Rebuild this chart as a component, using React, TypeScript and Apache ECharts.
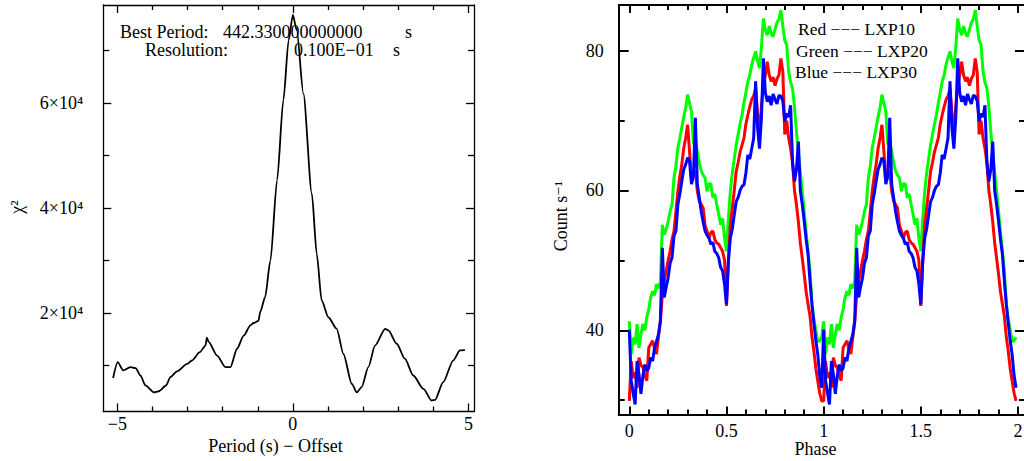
import React, { useEffect, useRef } from "react";
import * as echarts from "echarts";

// ---------- Left panel: chi-square periodogram ----------
const periodOffsets = [-5.12, -4.99, -4.83, -4.63, -4.48, -4.34, -4.2, -3.96, -3.82, -3.61, -3.49, -3.3, -3.01, -2.87, -2.65, -2.49, -2.45, -2.4, -2.16, -1.92, -1.78, -1.59, -1.4, -1.21, -1.12, -0.98, -0.93, -0.79, -0.64, -0.45, -0.27, -0.12, 0, 0.11, 0.3, 0.54, 0.68, 0.82, 1.01, 1.25, 1.44, 1.68, 1.82, 1.96, 2.15, 2.34, 2.63, 2.72, 2.96, 3.19, 3.43, 3.72, 3.95, 4.05, 4.28, 4.57, 4.76, 4.9];
const chiSquare = [7600, 10650, 9060, 9700, 9500, 8100, 6200, 4900, 5100, 6200, 7800, 8900, 10300, 11000, 12550, 13800, 15300, 14500, 11900, 9700, 9700, 13200, 15700, 17650, 18100, 18500, 20200, 23050, 30000, 45300, 60600, 72000, 76800, 73900, 61800, 42800, 31300, 22400, 19200, 17000, 12200, 6500, 4900, 5900, 9700, 13800, 17000, 16700, 14150, 11300, 8100, 5550, 3340, 3450, 6800, 11000, 12900, 13000];

const leftXMajor = [-5, 0, 5];
const leftXMinor = [-4, -3, -2, -1, 1, 2, 3, 4];
const leftYMajor = [20000, 40000, 60000];
const leftYMinor = [10000, 30000, 50000, 70000];

// ---------- Right panel: folded light curves (one cycle, phase step 0.01) ----------
const phaseStep = 0.01;
const redLXP10 = [29.9, 35.6, 33.2, 34, 31.8, 36.1, 35, 34.7, 33.5, 32.8, 37.5, 38, 38.5, 37.5, 36.6, 39, 41.3, 45.1, 47, 48.5, 50, 51.3, 53, 54.2, 57, 59.9, 62, 63.7, 66, 67.5, 69.4, 65.6, 61.8, 62.2, 62.8, 59.9, 58.5, 58, 57.5, 55, 54.2, 53.2, 54, 54.2, 53, 52.5, 52.3, 51.8, 51.3, 50, 43.5, 50, 55.1, 57.5, 60, 62.7, 64, 65.5, 66.5, 67.5, 69.5, 70.8, 72, 73, 73.5, 74.6, 71, 68.4, 72, 75, 76.5, 78.4, 76.5, 75.6, 76.2, 75, 76, 76.5, 78.9, 77, 68, 70, 67.5, 66, 64, 60, 58, 55.5, 52.5, 50.3, 48, 45.5, 43.7, 42, 39, 37, 34.5, 32.7, 31, 29.9];
const greenLXP20 = [41.3, 36.6, 39, 38, 40.9, 37.5, 39.4, 40.9, 40, 41.8, 43, 44.7, 45.6, 45, 46.6, 46, 47, 55.1, 53.7, 54.5, 55.6, 57, 58, 61.8, 63.5, 66.1, 67.5, 69, 70.5, 71.8, 73.7, 72.5, 71.3, 66.6, 67, 65.6, 64, 62.8, 62.2, 61.8, 59.9, 61, 60.9, 59, 59.5, 58, 56.6, 55.1, 56, 53.2, 51.3, 56, 59.9, 62.5, 64.5, 66.5, 68, 69.5, 70.8, 72.5, 74, 75.6, 76.5, 78, 79, 79.9, 78.5, 77.5, 80.5, 84.6, 83, 82.2, 83.5, 82.5, 82, 83, 84, 84.5, 85.8, 83.5, 81.5, 80.8, 77, 75.5, 74.6, 72, 68.4, 65.5, 62.5, 59.9, 57, 54, 51.3, 48.5, 43.7, 41.5, 40, 38.4, 38.5, 39];
const blueLXP30 = [40.1, 32.8, 31, 29.4, 35.6, 33.7, 30.9, 33.5, 35.1, 34.2, 34.6, 36.1, 35.6, 37.5, 38.4, 39.4, 41.3, 51.8, 44.7, 46.2, 47.5, 49.6, 50.4, 53.5, 54.2, 58, 59.5, 61.3, 63, 63.7, 64.7, 64.2, 60.9, 62, 70.4, 60.9, 59, 57, 55.5, 54.2, 53.6, 53.2, 52.3, 52.6, 51.3, 51, 50.4, 49, 48.5, 46.6, 43.7, 50, 53.2, 54.5, 56.5, 58.4, 59, 60, 60.6, 60.8, 62.5, 65.1, 64.5, 66, 67.5, 75.6, 69, 66, 70.5, 78.9, 74, 72.7, 73.5, 72.2, 73.8, 73, 72.4, 73.6, 73.5, 72.8, 69.9, 71, 70.5, 72.2, 64, 61.3, 63, 67, 60, 58, 55.6, 53, 50.8, 47, 43.7, 41, 38.5, 36.5, 33.5, 31.8];
const cycles = 2;

const rightXMajor = [0, 0.5, 1, 1.5, 2];
const rightXMinor = [0.1, 0.2, 0.3, 0.4, 0.6, 0.7, 0.8, 0.9, 1.1, 1.2, 1.3, 1.4, 1.6, 1.7, 1.8, 1.9];
const rightYMajor = [40, 60, 80];
const rightYMinor = [30, 50, 70];

const FONT = "'Liberation Serif', 'Times New Roman', 'DejaVu Serif', serif";

function fold(values: number[]) {
  const out: number[][] = [];
  for (let c = 0; c < cycles; c++) {
    values.forEach((v, i) => out.push([+(c + i * phaseStep).toFixed(3), v]));
  }
  return out;
}

function axisSet(kind: "x" | "y", gridIndex: number, min: number, max: number, major: number[], minor: number[], lw: number, majorLen: number, minorLen: number, label: any) {
  const posA = kind === "x" ? "bottom" : "left";
  const posB = kind === "x" ? "top" : "right";
  const base = { type: "value", gridIndex, min, max, splitLine: { show: false } };
  const line = { show: true, onZero: false, lineStyle: { color: "#000", width: lw } };
  const noLine = { show: false, onZero: false };
  return [
    { ...base, position: posA, axisLine: line, axisTick: { show: true, inside: true, length: majorLen, customValues: major, lineStyle: { color: "#000", width: lw } }, axisLabel: label },
    { ...base, position: posA, axisLine: noLine, axisTick: { show: true, inside: true, length: minorLen, customValues: minor, lineStyle: { color: "#000", width: lw } }, axisLabel: { show: false } },
    { ...base, position: posB, axisLine: line, axisTick: { show: true, inside: true, length: majorLen, customValues: major, lineStyle: { color: "#000", width: lw } }, axisLabel: { show: false } },
    { ...base, position: posB, axisLine: noLine, axisTick: { show: true, inside: true, length: minorLen, customValues: minor, lineStyle: { color: "#000", width: lw } }, axisLabel: { show: false } },
  ];
}

function txt(text: string, x: number, y: number, size: number, align = "left", rotation = 0) {
  return {
    type: "text",
    x,
    y,
    rotation,
    z: 100,
    style: {
      text,
      fill: "#000",
      font: `${size}px ${FONT}`,
      fontSize: size,
      fontFamily: FONT,
      align,
      textAlign: align,
      verticalAlign: "middle",
      textVerticalAlign: "middle",
    },
  };
}

export default function App() {
  const ref = useRef<HTMLDivElement>(null);
  useEffect(() => {
    if (!ref.current) return;
    const chart = echarts.init(ref.current, undefined, { renderer: "svg" });
    const minus = (v: number) => (v < 0 ? "\u2212" + Math.abs(v) : String(v));
    const option: any = {
      animation: false,
      backgroundColor: "#fff",
      grid: [
        { left: 103.3, top: 5, width: 370.7, height: 406.5, containLabel: false, outerBoundsMode: "none" },
        { left: 618.7, top: 5, width: 406.3, height: 409.5, containLabel: false, outerBoundsMode: "none" },
      ],
      xAxis: [
        ...axisSet("x", 0, -5.4, 5.16, leftXMajor, leftXMinor, 1.3, 8, 5, {
          show: true, customValues: leftXMajor, formatter: minus, color: "#000", fontSize: 18, fontFamily: FONT, margin: 3,
        }),
        ...axisSet("x", 1, -0.0545, 2.036, rightXMajor, rightXMinor, 2, 8, 5, {
          show: true, customValues: rightXMajor, formatter: (v: number) => String(v), color: "#000", fontSize: 18, fontFamily: FONT, margin: 7,
        }),
      ],
      yAxis: [
        ...axisSet("y", 0, 1240, 78700, leftYMajor, leftYMinor, 1.3, 8, 6, {
          show: true, customValues: leftYMajor, formatter: (v: number) => `${v / 10000}\u00d710\u2074`, color: "#000", fontSize: 18, fontFamily: FONT, margin: 20,
        }),
        ...axisSet("y", 1, 27.96, 86.53, rightYMajor, rightYMinor, 2, 10, 6, {
          show: true, customValues: rightYMajor, formatter: (v: number) => String(v), color: "#000", fontSize: 18, fontFamily: FONT, margin: 15,
        }),
      ],
      series: [
        {
          type: "line", xAxisIndex: 0, yAxisIndex: 0, showSymbol: false, smooth: 0.25, smoothMonotone: "x",
          data: periodOffsets.map((x, i) => [x, chiSquare[i]]),
          lineStyle: { color: "#000", width: 1.8 }, itemStyle: { color: "#000" },
        },
        {
          type: "line", name: "LXP20", xAxisIndex: 4, yAxisIndex: 4, showSymbol: false,
          data: fold(greenLXP20), lineStyle: { color: "#00ff00", width: 3 }, itemStyle: { color: "#00ff00" },
        },
        {
          type: "line", name: "LXP10", xAxisIndex: 4, yAxisIndex: 4, showSymbol: false,
          data: fold(redLXP10), lineStyle: { color: "#ff0000", width: 3 }, itemStyle: { color: "#ff0000" },
        },
        {
          type: "line", name: "LXP30", xAxisIndex: 4, yAxisIndex: 4, showSymbol: false,
          data: fold(blueLXP30), lineStyle: { color: "#0000ff", width: 3 }, itemStyle: { color: "#0000ff" },
        },
      ],
      graphic: [
        txt("Best Period:", 120, 32, 18),
        txt("442.330000000000", 223, 32, 18),
        txt("s", 405, 32, 18),
        txt("Resolution:", 145, 50, 18),
        txt("0.100E\u221201", 294, 50, 18),
        txt("s", 393, 50, 18),
        txt("Period (s) \u2212 Offset", 275.5, 446, 18, "center"),
        txt("\u03c7\u00b2", 17, 207, 18, "center", Math.PI / 2),
        txt("Phase", 815.5, 449, 18, "center"),
        txt("Count s\u207b\u00b9", 561, 216, 18, "center", Math.PI / 2),
        txt("Red \u2212\u2212\u2212 LXP10", 798, 29, 17.5),
        txt("Green \u2212\u2212\u2212 LXP20", 796, 51, 17.5),
        txt("Blue \u2212\u2212\u2212 LXP30", 795, 72, 17.5),
      ],
    };
    chart.setOption(option);
    return () => chart.dispose();
  }, []);
  return <div ref={ref} style={{ position: "absolute", left: 0, top: 0, width: 1024, height: 461 }} />;
}
